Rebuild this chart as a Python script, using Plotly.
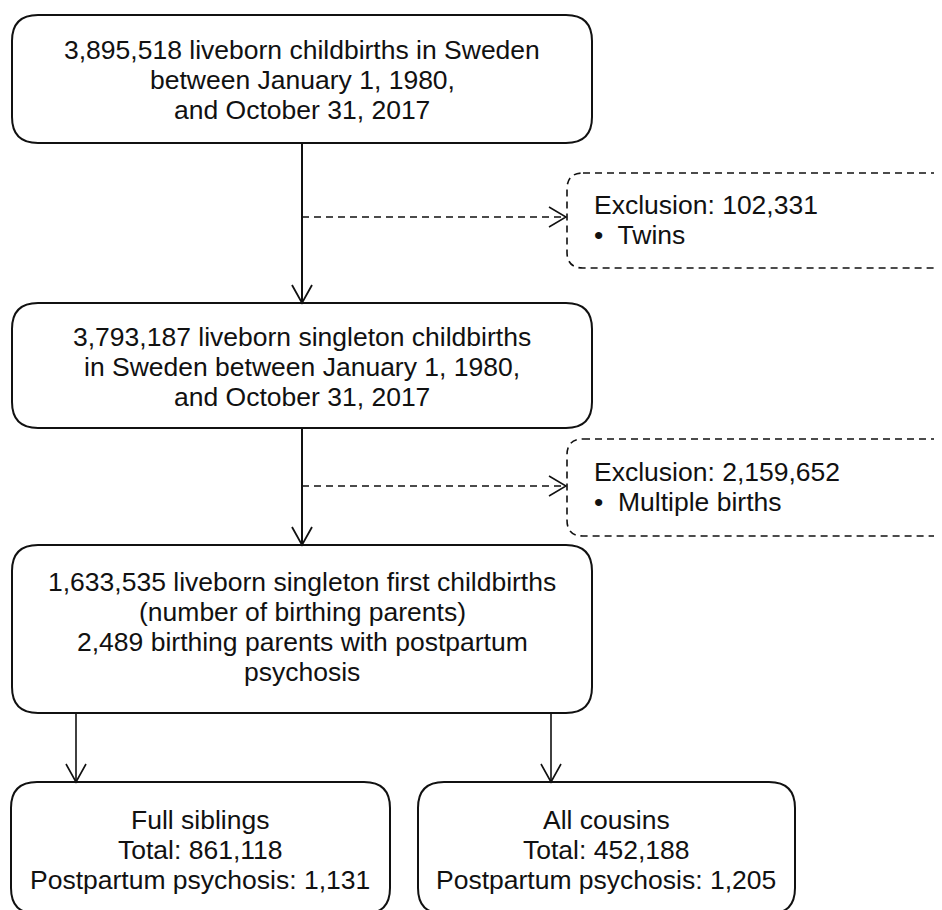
import plotly.graph_objects as go

# ---- data ----
stage_counts = [3895518, 3793187, 1633535]
exclusion_counts = [102331, 2159652]
exclusion_reasons = ["Twins", "Multiple births"]
psychosis_parents = 2489
group_names = ["Full siblings", "All cousins"]
group_totals = [861118, 452188]
group_psychosis = [1131, 1205]


def fmt(n):
    return f"{n:,}"


box_lines = [
    [f"{fmt(stage_counts[0])} liveborn childbirths in Sweden",
     "between January 1, 1980,",
     "and October 31, 2017"],
    [f"{fmt(stage_counts[1])} liveborn singleton childbirths",
     "in Sweden between January 1, 1980,",
     "and October 31, 2017"],
    [f"{fmt(stage_counts[2])} liveborn singleton first childbirths",
     "(number of birthing parents)",
     f"{fmt(psychosis_parents)} birthing parents with postpartum",
     "psychosis"],
]
group_lines = [[group_names[i], f"Total: {fmt(group_totals[i])}",
                f"Postpartum psychosis: {fmt(group_psychosis[i])}"] for i in range(2)]
excl_lines = [[f"Exclusion: {fmt(exclusion_counts[i])}", f"\u2022  {exclusion_reasons[i]}"]
              for i in range(2)]

# ---- layout geometry (pixels, y downward) ----
W, H = 942, 910
OFF = 8  # page body margin offset
FONT = dict(family="Liberation Sans, Arial, sans-serif", size=26.5, color="#111111")
LH = 30

main_boxes = [(12, 15, 592, 143), (12, 303, 592, 428), (12, 545, 592, 713)]
group_boxes = [(11, 782, 390, 914), (418, 782, 795, 914)]
excl_boxes = [(567, 173, 975, 268), (567, 439, 975, 536)]
excl_arrow_y = [217, 486]
main_x = 302
group_arrow_x = [76, 551]

shapes = []
annotations = []


def rrect(x0, y0, x1, y1, r):
    return (f"M{x0+r},{y0} L{x1-r},{y0} Q{x1},{y0} {x1},{y0+r} L{x1},{y1-r} "
            f"Q{x1},{y1} {x1-r},{y1} L{x0+r},{y1} Q{x0},{y1} {x0},{y1-r} "
            f"L{x0},{y0+r} Q{x0},{y0} {x0+r},{y0} Z")


def add_box(b, r, dash="solid", width=2):
    shapes.append(dict(type="path", path=rrect(*b, r), xref="x", yref="y",
                       line=dict(color="#111111", width=width, dash=dash),
                       fillcolor="rgba(0,0,0,0)", layer="above"))


def add_line(x0, y0, x1, y1, dash="solid", width=2):
    shapes.append(dict(type="line", x0=x0, y0=y0, x1=x1, y1=y1, xref="x", yref="y",
                       line=dict(color="#111111", width=width, dash=dash)))


def add_head_down(x, y, width=1.8):
    shapes.append(dict(type="path", path=f"M{x-10},{y-18} L{x},{y} L{x+10},{y-18}",
                       xref="x", yref="y", line=dict(color="#111111", width=width)))


def add_head_right(x, y, width=1.5):
    shapes.append(dict(type="path", path=f"M{x-17},{y-10} L{x},{y} L{x-17},{y+10}",
                       xref="x", yref="y", line=dict(color="#111111", width=width)))


def add_text_lines(lines, cx, cy, align="center"):
    n = len(lines)
    for i, t in enumerate(lines):
        y = cy + (i - (n - 1) / 2) * LH
        annotations.append(dict(x=cx, y=y, xref="x", yref="y", text=t, showarrow=False,
                                xanchor=align, yanchor="middle", font=FONT))


# main boxes
for b in main_boxes:
    add_box(b, 26)
add_text_lines(box_lines[0], main_x, 80)
add_text_lines(box_lines[1], main_x, 367)
add_text_lines(box_lines[2], main_x, 627)

# vertical arrows between main boxes
add_line(main_x, main_boxes[0][3], main_x, main_boxes[1][1])
add_head_down(main_x, main_boxes[1][1])
add_line(main_x, main_boxes[1][3], main_x, main_boxes[2][1])
add_head_down(main_x, main_boxes[2][1])

# exclusions
for i, b in enumerate(excl_boxes):
    add_box(b, 16, dash="7px,5px", width=1.6)
    add_line(main_x, excl_arrow_y[i], b[0] - 1, excl_arrow_y[i], dash="7px,5px", width=1.5)
    add_head_right(b[0] - 1, excl_arrow_y[i])
    add_text_lines(excl_lines[i], 592, (b[1] + b[3]) / 2 - 1, align="left")

# group boxes
group_cx = [200, 606]
for i, b in enumerate(group_boxes):
    add_box(b, 26)
    add_line(group_arrow_x[i], main_boxes[2][3], group_arrow_x[i], b[1], width=1.6)
    add_head_down(group_arrow_x[i], b[1], width=1.6)
    add_text_lines(group_lines[i], group_cx[i], 850)

fig = go.Figure()
fig.update_layout(
    width=W, height=H,
    margin=dict(l=0, r=0, t=0, b=0),
    paper_bgcolor="white", plot_bgcolor="white",
    xaxis=dict(range=[OFF, W + OFF], visible=False, fixedrange=True),
    yaxis=dict(range=[H + OFF, OFF], visible=False, fixedrange=True),
    shapes=shapes, annotations=annotations, showlegend=False,
)
fig.write_html("out.html")
